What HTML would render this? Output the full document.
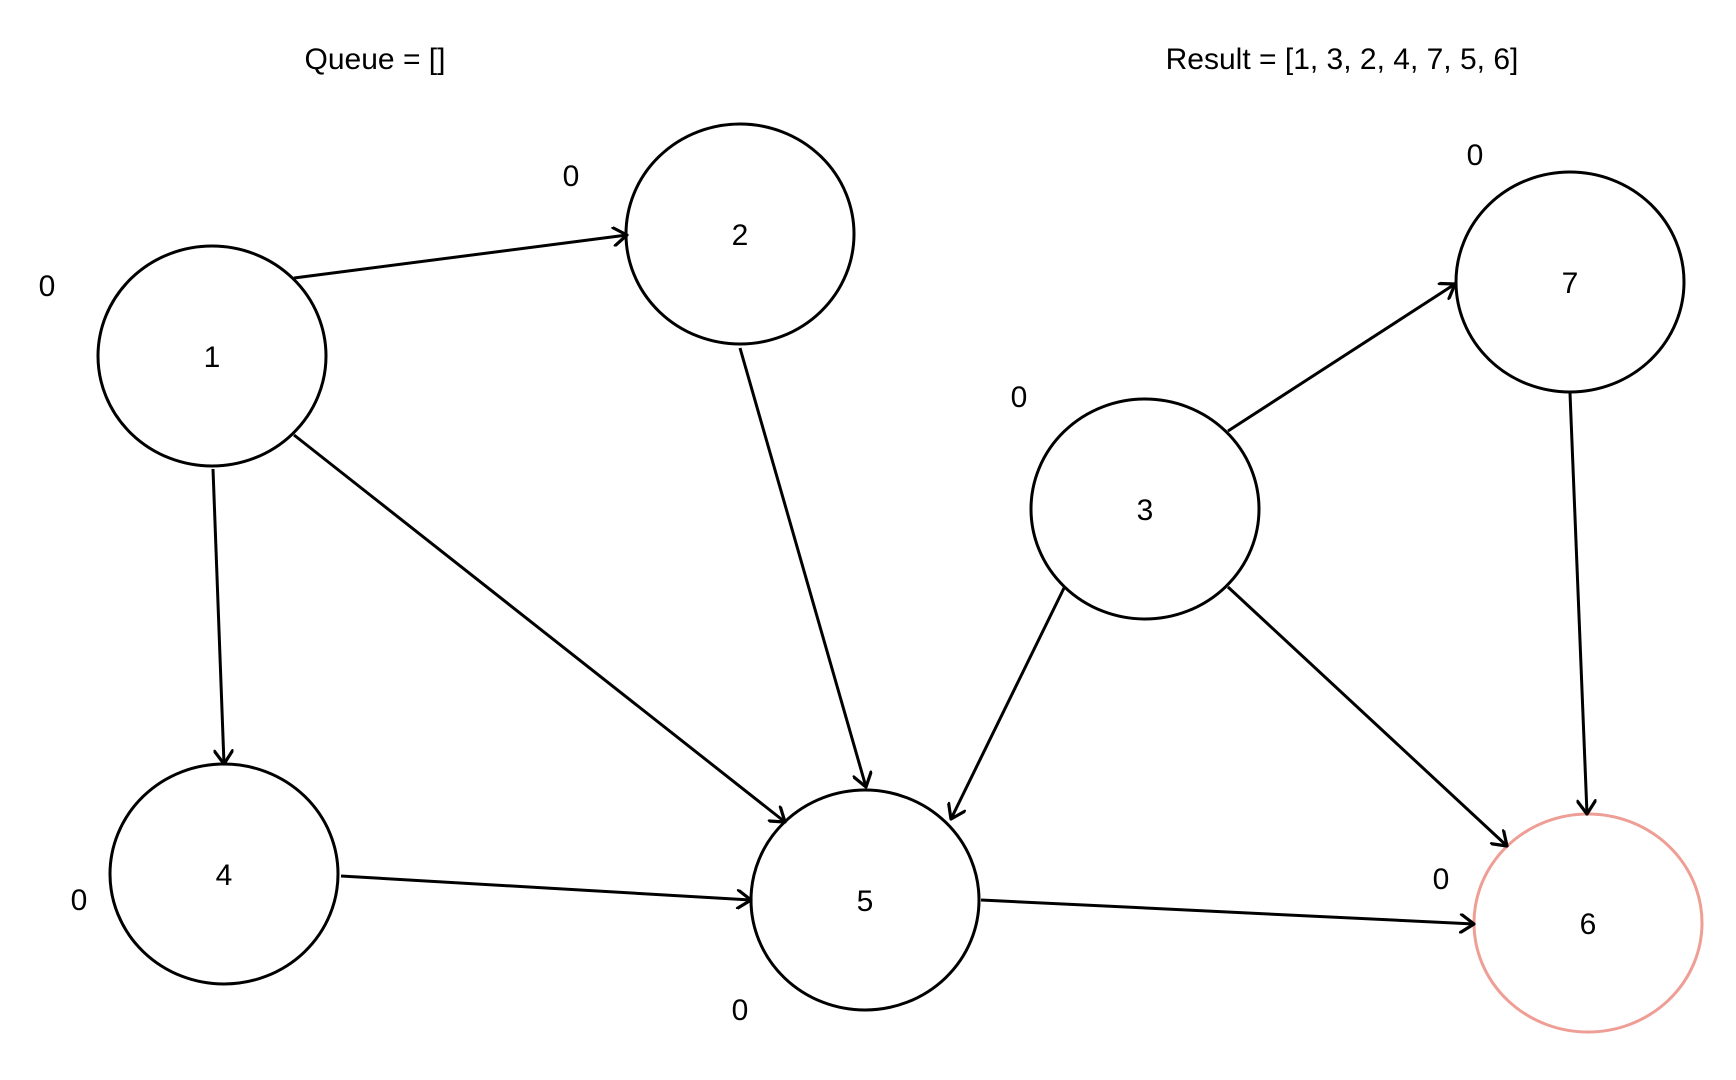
<!DOCTYPE html>
<html><head><meta charset="utf-8"><style>
html,body{margin:0;padding:0;background:#fff;}
svg{display:block;}
text{font-family:"Liberation Sans",sans-serif;font-size:30px;fill:#000;}
</style></head><body>
<svg width="1736" height="1080" viewBox="0 0 1736 1080" xmlns="http://www.w3.org/2000/svg">
<defs>
<marker id="a" markerWidth="20" markerHeight="20" refX="15" refY="10" orient="auto" markerUnits="userSpaceOnUse">
<path d="M2,1 L15,10 L2,19" fill="none" stroke="#000" stroke-width="3.2" stroke-linecap="round" stroke-linejoin="round"/>
</marker>
</defs>
<g stroke="#000" stroke-width="3" fill="none">
<ellipse cx="212" cy="356" rx="114" ry="110"/>
<ellipse cx="740" cy="234" rx="114" ry="110"/>
<ellipse cx="1570" cy="282" rx="114" ry="110"/>
<ellipse cx="1145" cy="509" rx="114" ry="110"/>
<ellipse cx="224" cy="874" rx="114" ry="110"/>
<ellipse cx="865" cy="900" rx="114" ry="110"/>
<ellipse cx="1588" cy="923" rx="114" ry="109" stroke="#ee9e94"/>
<g marker-end="url(#a)">
<line x1="294" y1="278" x2="627" y2="235"/>
<line x1="740" y1="348" x2="866" y2="787"/>
<line x1="213" y1="469" x2="224" y2="764"/>
<line x1="294" y1="435" x2="785" y2="822"/>
<line x1="341" y1="876" x2="751" y2="900"/>
<line x1="1228" y1="431" x2="1455" y2="284"/>
<line x1="1064" y1="588" x2="951" y2="819"/>
<line x1="1228" y1="587" x2="1507" y2="846"/>
<line x1="1570" y1="393" x2="1587" y2="814"/>
<line x1="981" y1="900" x2="1474" y2="924"/>
</g>
</g>
<g text-anchor="middle">
<text x="375" y="69">Queue = []</text>
<text x="1342" y="69">Result = [1, 3, 2, 4, 7, 5, 6]</text>
<text x="212" y="367">1</text>
<text x="740" y="245">2</text>
<text x="1570" y="293">7</text>
<text x="1145" y="520">3</text>
<text x="224" y="885">4</text>
<text x="865" y="911">5</text>
<text x="1588" y="934">6</text>
<text x="47" y="296">0</text>
<text x="571" y="186">0</text>
<text x="1475" y="165">0</text>
<text x="1019" y="407">0</text>
<text x="79" y="910">0</text>
<text x="740" y="1020">0</text>
<text x="1441" y="889">0</text>
</g>
</svg>
</body></html>
